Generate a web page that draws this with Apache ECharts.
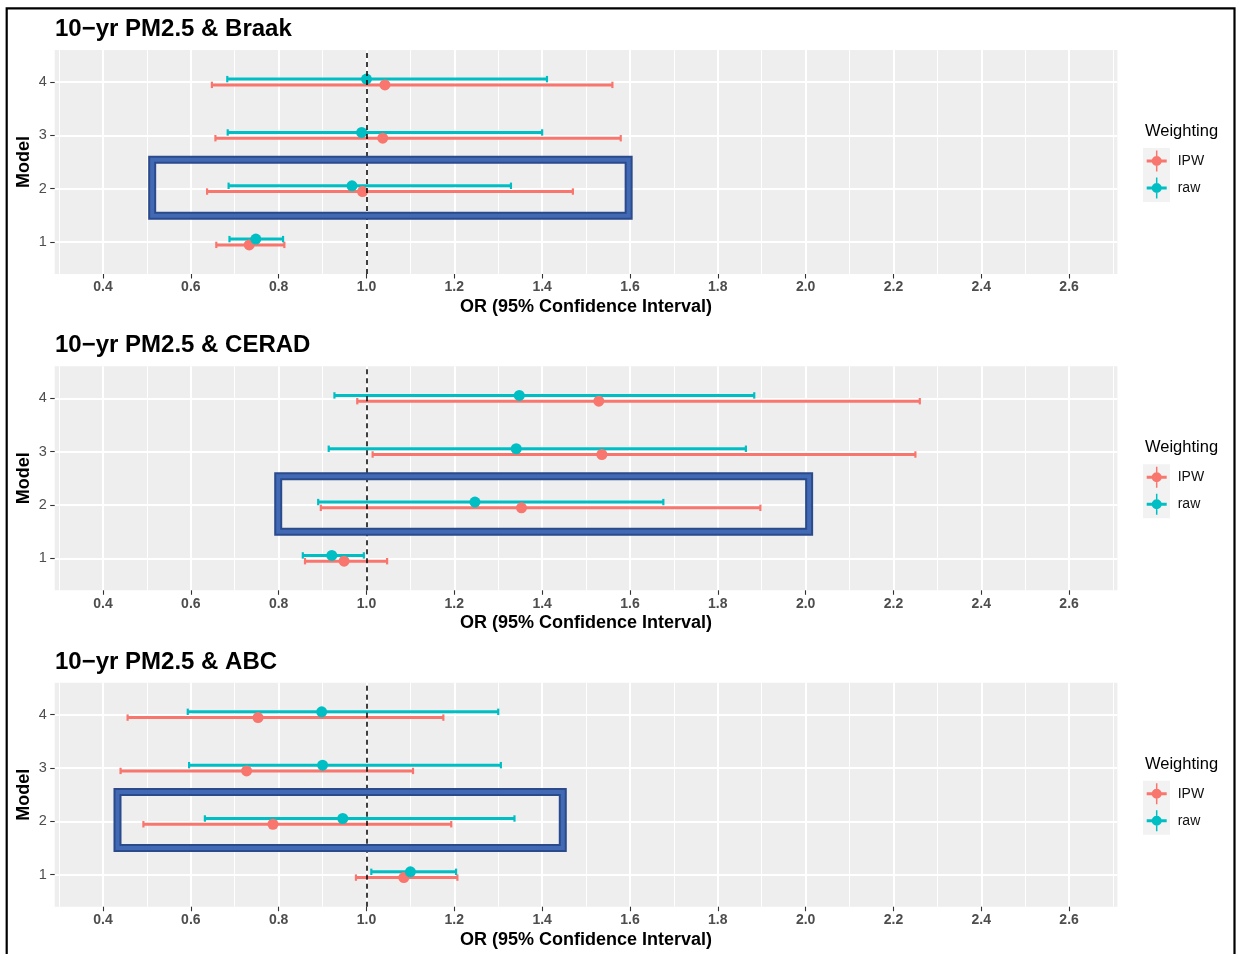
<!DOCTYPE html>
<html>
<head>
<meta charset="utf-8">
<script src="https://cdn.jsdelivr.net/npm/echarts@6/dist/echarts.min.js"></script>
<style>
html,body{margin:0;padding:0;background:#fff;}
#chart{width:1241px;height:954px;}
</style>
</head>
<body>
<div id="chart"></div>
<script>
// ---------------- data ----------------
const panelTitles = ['10−yr PM2.5 & Braak', '10−yr PM2.5 & CERAD', '10−yr PM2.5 & ABC'];
const models = [1, 2, 3, 4];
const weightings = ['IPW', 'raw'];
const xTicks = [0.4, 0.6, 0.8, 1.0, 1.2, 1.4, 1.6, 1.8, 2.0, 2.2, 2.4, 2.6];
const xMinorTicks = [0.3, 0.5, 0.7, 0.9, 1.1, 1.3, 1.5, 1.7, 1.9, 2.1, 2.3, 2.5, 2.7];
const refLine = 1.0;
const xAxisTitle = 'OR (95% Confidence Interval)';
const yAxisTitle = 'Model';
const legendTitle = 'Weighting';

// Braak (model 1..4)
const braakIpwOR = [0.733, 0.991, 1.037, 1.042];
const braakIpwLo = [0.658, 0.637, 0.656, 0.648];
const braakIpwHi = [0.813, 1.470, 1.579, 1.560];
const braakRawOR = [0.748, 0.967, 0.989, 1.000];
const braakRawLo = [0.688, 0.686, 0.684, 0.683];
const braakRawHi = [0.810, 1.329, 1.400, 1.411];
// CERAD
const ceradIpwOR = [0.949, 1.353, 1.536, 1.529];
const ceradIpwLo = [0.860, 0.896, 1.014, 0.979];
const ceradIpwHi = [1.047, 1.897, 2.250, 2.260];
const ceradRawOR = [0.921, 1.247, 1.341, 1.348];
const ceradRawLo = [0.855, 0.890, 0.914, 0.927];
const ceradRawHi = [0.994, 1.676, 1.864, 1.883];
// ABC
const abcIpwOR = [1.085, 0.787, 0.727, 0.753];
const abcIpwLo = [0.976, 0.492, 0.440, 0.456];
const abcIpwHi = [1.207, 1.193, 1.106, 1.175];
const abcRawOR = [1.100, 0.946, 0.900, 0.898];
const abcRawLo = [1.011, 0.632, 0.596, 0.593];
const abcRawHi = [1.204, 1.337, 1.306, 1.300];

// highlighted region around model 2: [xFrom, xTo, yFrom, yTo] in data units
const highlightBoxes = [
  [0.512, 1.597, 1.49, 2.54],
  [0.799, 2.008, 1.50, 2.54],
  [0.433, 1.447, 1.50, 2.55]
];

// ---------------- build ----------------
const panelData = [
  { IPW: [braakIpwOR, braakIpwLo, braakIpwHi], raw: [braakRawOR, braakRawLo, braakRawHi] },
  { IPW: [ceradIpwOR, ceradIpwLo, ceradIpwHi], raw: [ceradRawOR, ceradRawLo, ceradRawHi] },
  { IPW: [abcIpwOR, abcIpwLo, abcIpwHi], raw: [abcRawOR, abcRawLo, abcRawHi] }
];

const FONT = '"Liberation Sans", Arial, Helvetica, sans-serif';
const colors = { IPW: '#F8766D', raw: '#00BFC4' };
const dodge = { IPW: -0.054, raw: 0.054 };
const gridLeft = 54.7, gridWidth = 1062.7, gridHeight = 224;
const gridTops = [50, 366.3, 682.7];
const keyIcon = 'path://M0,9 L20,9 L20,12 L0,12 Z M9.25,0 L10.75,0 L10.75,21 L9.25,21 Z M15,10.5 A5,5 0 1 1 5,10.5 A5,5 0 1 1 15,10.5 Z';

const grids = [], xAxes = [], yAxes = [], series = [], titles = [], legends = [], graphics = [];

gridTops.forEach((top, p) => {
  grids.push({ left: gridLeft, top: top, width: gridWidth, height: gridHeight,
    show: true, backgroundColor: '#EEEEEE', borderWidth: 0 });

  // major x axis
  xAxes.push({
    type: 'value', gridIndex: p, min: 0.29, max: 2.71, position: 'bottom',
    axisLine: { show: false },
    axisTick: { show: true, length: 4.5, customValues: xTicks, lineStyle: { color: '#333', width: 1.1 } },
    axisLabel: { customValues: xTicks, formatter: v => v.toFixed(1), margin: 6.5,
      fontSize: 14, fontWeight: 'bold', color: '#4D4D4D', fontFamily: FONT },
    splitLine: { show: true, lineStyle: { color: '#FFFFFF', width: 2 } },
    name: xAxisTitle, nameLocation: 'middle', nameGap: 24, nameMoveOverlap: false,
    nameTextStyle: { fontSize: 18, fontWeight: 'bold', color: '#000', fontFamily: FONT }
  });
  // minor x axis (grid lines only)
  xAxes.push({
    type: 'value', gridIndex: p, min: 0.29, max: 2.71, position: 'bottom',
    axisLine: { show: false },
    axisTick: { show: false, customValues: xMinorTicks },
    axisLabel: { show: false, customValues: xMinorTicks },
    splitLine: { show: true, lineStyle: { color: '#FFFFFF', width: 1.1 } }
  });
  yAxes.push({
    type: 'value', gridIndex: p, min: 0.4, max: 4.6,
    axisLine: { show: false },
    axisTick: { show: true, length: 4.5, customValues: models, lineStyle: { color: '#333', width: 1.1 } },
    axisLabel: { customValues: models, margin: 8, fontSize: 14.5, color: '#4D4D4D', fontFamily: FONT },
    splitLine: { show: true, lineStyle: { color: '#FFFFFF', width: 2 } },
    name: yAxisTitle, nameLocation: 'middle', nameGap: 22, nameMoveOverlap: false,
    nameTextStyle: { fontSize: 18, fontWeight: 'bold', color: '#000', fontFamily: FONT }
  });

  titles.push({ text: panelTitles[p], left: 55, top: top - 32.5, padding: 0,
    textStyle: { fontSize: 24, fontWeight: 'bold', color: '#000', fontFamily: FONT, lineHeight: 24 } });

  weightings.forEach(w => {
    const [orv, lo, hi] = panelData[p][w];
    series.push({
      name: w, type: 'custom', xAxisIndex: 2 * p, yAxisIndex: p, z: 3,
      itemStyle: { color: colors[w] },
      encode: { x: [0, 1], y: 2 },
      data: models.map((m, i) => [lo[i], hi[i], m + dodge[w]]),
      renderItem: (params, api) => {
        const a = api.coord([api.value(0), api.value(2)]);
        const b = api.coord([api.value(1), api.value(2)]);
        const st = { stroke: colors[w], lineWidth: 3 };
        const cs = { stroke: colors[w], lineWidth: 2.2 };
        return { type: 'group', children: [
          { type: 'line', shape: { x1: a[0], y1: a[1], x2: b[0], y2: b[1] }, style: st },
          { type: 'line', shape: { x1: a[0], y1: a[1] - 3.2, x2: a[0], y2: a[1] + 3.2 }, style: cs },
          { type: 'line', shape: { x1: b[0], y1: b[1] - 3.2, x2: b[0], y2: b[1] + 3.2 }, style: cs }
        ] };
      }
    });
  });
  weightings.forEach(w => {
    const [orv] = panelData[p][w];
    series.push({
      name: w, type: 'scatter', xAxisIndex: 2 * p, yAxisIndex: p, z: 4,
      symbol: 'circle', symbolSize: 11,
      itemStyle: { color: colors[w], opacity: 1 },
      data: models.map((m, i) => [orv[i], m + dodge[w]])
    });
  });
  // reference line
  series.push({
    name: 'ref', type: 'line', xAxisIndex: 2 * p, yAxisIndex: p, data: [], z: 6,
    markLine: { silent: true, symbol: ['none', 'none'], label: { show: false },
      lineStyle: { color: '#000', type: [5, 4], width: 1.5 },
      data: [{ xAxis: refLine }] }
  });
  // highlight box
  series.push({
    name: 'box', type: 'custom', xAxisIndex: 2 * p, yAxisIndex: p, z: 7,
    encode: { x: [0, 1], y: [2, 3] },
    data: [highlightBoxes[p]],
    renderItem: (params, api) => {
      const p0 = api.coord([api.value(0), api.value(3)]);
      const p1 = api.coord([api.value(1), api.value(2)]);
      const shape = { x: p0[0], y: p0[1], width: p1[0] - p0[0], height: p1[1] - p0[1] };
      return { type: 'group', children: [
        { type: 'rect', shape: shape, style: { fill: 'none', stroke: '#2A4A8C', lineWidth: 8 } },
        { type: 'rect', shape: shape, style: { fill: 'none', stroke: '#4169B4', lineWidth: 4 } }
      ] };
    }
  });

  legends.push({
    orient: 'vertical', left: 1146.7, top: top + 100.5, padding: 0,
    itemWidth: 20, itemHeight: 21, itemGap: 6, selectedMode: false,
    data: weightings.map(w => ({ name: w, icon: keyIcon, itemStyle: { color: colors[w] } })),
    textStyle: { fontSize: 14, color: '#111', fontFamily: FONT, padding: [0, 0, 0, 6] }
  });

  graphics.push({ type: 'rect', z: -1, silent: true,
    shape: { x: 1143, y: top + 98, width: 27, height: 54 }, style: { fill: '#F2F2F2' } });
  graphics.push({ type: 'text', silent: true,
    style: { text: legendTitle, x: 1145, y: top + 81.5, verticalAlign: 'middle', align: 'left',
      font: '16.5px ' + FONT, fill: '#000' } });
});

graphics.push({ type: 'rect', silent: true,
  shape: { x: 6.7, y: 8.3, width: 1227.8, height: 1000 },
  style: { fill: 'none', stroke: '#000', lineWidth: 2.2 } });

const chart = echarts.init(document.getElementById('chart'), null, { renderer: 'canvas' });
chart.setOption({
  animation: false,
  backgroundColor: '#FFFFFF',
  textStyle: { fontFamily: FONT },
  title: titles,
  grid: grids,
  xAxis: xAxes,
  yAxis: yAxes,
  legend: legends,
  graphic: graphics,
  series: series
});
</script>
</body>
</html>
